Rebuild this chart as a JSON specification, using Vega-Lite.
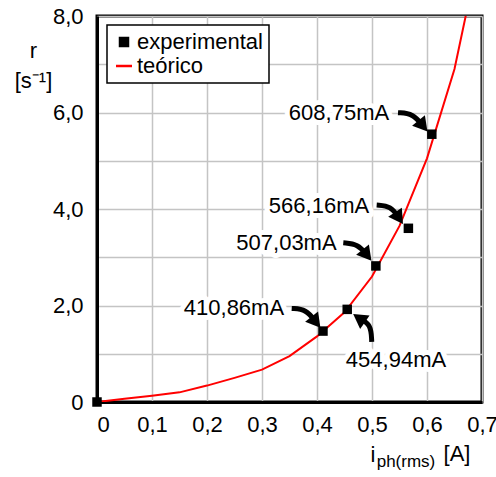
{
  "$schema": "https://vega.github.io/schema/vega-lite/v6.json",
  "width": 385,
  "height": 386,
  "autosize": {"type": "none"},
  "padding": {"left": 97, "top": 16, "right": 14, "bottom": 75},
  "background": "white",
  "config": {
    "font": "Liberation Sans",
    "view": {"stroke": "black", "strokeWidth": 3},
    "legend": {"strokeWidth": 1.5},
    "axis": {
      "gridColor": "#c4c4c4",
      "gridWidth": 1.5,
      "domainColor": "black",
      "domainWidth": 3,
      "ticks": false,
      "labelFont": "Liberation Sans",
      "labelFontSize": 22,
      "labelColor": "black",
      "labelOverlap": false,
      "labelFlush": false,
      "titleFont": "Liberation Sans",
      "titleFontSize": 22,
      "titleFontWeight": "normal",
      "titleColor": "black"
    }
  },
  "datasets": {
    "teorico": [
      {"i": 0, "r": 0, "serie": "teórico"},
      {"i": 0.05, "r": 0.065, "serie": "teórico"},
      {"i": 0.1, "r": 0.13, "serie": "teórico"},
      {"i": 0.15, "r": 0.2, "serie": "teórico"},
      {"i": 0.2, "r": 0.34, "serie": "teórico"},
      {"i": 0.25, "r": 0.5, "serie": "teórico"},
      {"i": 0.3, "r": 0.67, "serie": "teórico"},
      {"i": 0.35, "r": 0.95, "serie": "teórico"},
      {"i": 0.4, "r": 1.36, "serie": "teórico"},
      {"i": 0.45, "r": 1.86, "serie": "teórico"},
      {"i": 0.5, "r": 2.6, "serie": "teórico"},
      {"i": 0.55, "r": 3.65, "serie": "teórico"},
      {"i": 0.6, "r": 5.05, "serie": "teórico"},
      {"i": 0.65, "r": 6.9, "serie": "teórico"},
      {"i": 0.7, "r": 9.6, "serie": "teórico"}
    ],
    "experimental": [
      {"i": 0, "r": 0, "serie": "experimental"},
      {"i": 0.41086, "r": 1.47, "serie": "experimental"},
      {"i": 0.45494, "r": 1.92, "serie": "experimental"},
      {"i": 0.50703, "r": 2.82, "serie": "experimental"},
      {"i": 0.56616, "r": 3.6, "serie": "experimental"},
      {"i": 0.60875, "r": 5.55, "serie": "experimental"}
    ],
    "rotulos": [
      {"i": 0.44, "r": 6.0, "label": "608,75mA"},
      {"i": 0.4036, "r": 4.06, "label": "566,16mA"},
      {"i": 0.3445, "r": 3.29, "label": "507,03mA"},
      {"i": 0.249, "r": 1.94, "label": "410,86mA"},
      {"i": 0.5436, "r": 0.865, "label": "454,94mA"}
    ],
    "subscrito": [
      {"i": 0.5618, "r": -1.355, "label": "ph(rms)"}
    ],
    "unidade": [
      {"i": 0.6545, "r": -1.23, "label": "[A]"}
    ],
    "setas": [
      {"id": 1, "seq": 1, "i": 0.5473, "r": 5.996},
      {"id": 1, "seq": 2, "i": 0.5745, "r": 5.979},
      {"id": 1, "seq": 3, "i": 0.5927, "r": 5.72},
      {"id": 2, "seq": 1, "i": 0.5085, "r": 4.081},
      {"id": 2, "seq": 2, "i": 0.5345, "r": 4.06},
      {"id": 2, "seq": 3, "i": 0.5491, "r": 3.811},
      {"id": 3, "seq": 1, "i": 0.4478, "r": 3.299},
      {"id": 3, "seq": 2, "i": 0.4745, "r": 3.272},
      {"id": 3, "seq": 3, "i": 0.4909, "r": 3.044},
      {"id": 4, "seq": 1, "i": 0.354, "r": 1.938},
      {"id": 4, "seq": 2, "i": 0.38, "r": 1.923},
      {"id": 4, "seq": 3, "i": 0.3982, "r": 1.654},
      {"id": 5, "seq": 1, "i": 0.4995, "r": 1.245},
      {"id": 5, "seq": 2, "i": 0.4982, "r": 1.612},
      {"id": 5, "seq": 3, "i": 0.4764, "r": 1.737}
    ],
    "pontas": [
      {"i": 0.5927, "r": 5.72, "dir": 141},
      {"i": 0.5491, "r": 3.811, "dir": 146},
      {"i": 0.4909, "r": 3.044, "dir": 141},
      {"i": 0.3982, "r": 1.654, "dir": 142},
      {"i": 0.4764, "r": 1.737, "dir": 305}
    ]
  },
  "layer": [
    {
      "data": {"name": "teorico"},
      "mark": {"type": "line", "clip": true, "strokeWidth": 2},
      "encoding": {
        "x": {
          "field": "i",
          "type": "quantitative",
          "scale": {"domain": [0, 0.7], "nice": false},
          "axis": {
            "values": [0, 0.1, 0.2, 0.3, 0.4, 0.5, 0.6, 0.7],
            "labelExpr": "datum.value === 0 ? '0' : replace(format(datum.value, '.1f'), '.', ',')",
            "labelAlign": {"condition": {"test": "datum.value === 0", "value": "left"}, "value": "center"},
            "labelPadding": 12,
            "title": "i",
            "titleAlign": "left",
            "titleBaseline": "alphabetic",
            "titleX": 273,
            "titleY": 59
          }
        },
        "y": {
          "field": "r",
          "type": "quantitative",
          "scale": {"domain": [0, 8], "nice": false},
          "axis": {
            "values": [0, 0.5, 1, 1.5, 2, 2.5, 3, 3.5, 4, 4.5, 5, 5.5, 6, 6.5, 7, 7.5, 8],
            "labelExpr": "datum.value % 2 === 0 ? (datum.value === 0 ? '0' : replace(format(datum.value, '.1f'), '.', ',')) : ''",
            "labelPadding": 14,
            "title": ["r", "[s⁻¹]"],
            "titleAngle": 0,
            "titleAlign": "center",
            "titleBaseline": "alphabetic",
            "titleX": -64,
            "titleY": 41,
            "titleLineHeight": 30
          }
        },
        "color": {
          "field": "serie",
          "type": "nominal",
          "scale": {"domain": ["experimental", "teórico"], "range": ["black", "red"]},
          "legend": {
            "title": null,
            "orient": "none",
            "legendX": 10,
            "legendY": 9,
            "fillColor": "white",
            "strokeColor": "black",
            "padding": 6,
            "labelFont": "Liberation Sans",
            "labelFontSize": 22,
            "labelColor": "black",
            "labelOffset": 2,
            "rowPadding": 2,
            "symbolStrokeWidth": 2.5,
            "encode": {
              "symbols": {
                "update": {
                  "stroke": {"scale": "color", "field": "value"},
                  "size": {"signal": "datum.value === 'teórico' ? 256 : 64"}
                }
              }
            }
          }
        }
      }
    },
    {
      "data": {"name": "experimental"},
      "mark": {"type": "point", "filled": true, "opacity": 1, "size": 90},
      "encoding": {
        "x": {"field": "i", "type": "quantitative"},
        "y": {"field": "r", "type": "quantitative"},
        "color": {"field": "serie", "type": "nominal"},
        "shape": {
          "field": "serie",
          "type": "nominal",
          "scale": {"domain": ["experimental", "teórico"], "range": ["square", "stroke"]}
        }
      }
    },
    {
      "data": {"name": "rotulos"},
      "mark": {"type": "text", "fontSize": 22, "font": "Liberation Sans", "fill": "white", "stroke": "white", "strokeWidth": 10, "strokeJoin": "round"},
      "encoding": {
        "x": {"field": "i", "type": "quantitative"},
        "y": {"field": "r", "type": "quantitative"},
        "text": {"field": "label"}
      }
    },
    {
      "data": {"name": "setas"},
      "mark": {"type": "line", "interpolate": "basis", "strokeWidth": 5, "color": "black"},
      "encoding": {
        "x": {"field": "i", "type": "quantitative"},
        "y": {"field": "r", "type": "quantitative"},
        "detail": {"field": "id"},
        "order": {"field": "seq"}
      }
    },
    {
      "data": {"name": "pontas"},
      "mark": {"type": "point", "shape": "triangle-up", "filled": true, "opacity": 1, "color": "black", "size": 270},
      "encoding": {
        "x": {"field": "i", "type": "quantitative"},
        "y": {"field": "r", "type": "quantitative"},
        "angle": {"field": "dir", "type": "quantitative", "scale": null}
      }
    },
    {
      "data": {"name": "rotulos"},
      "mark": {"type": "text", "fontSize": 22, "font": "Liberation Sans", "color": "black"},
      "encoding": {
        "x": {"field": "i", "type": "quantitative"},
        "y": {"field": "r", "type": "quantitative"},
        "text": {"field": "label"}
      }
    },
    {
      "data": {"name": "subscrito"},
      "mark": {"type": "text", "fontSize": 17, "font": "Liberation Sans", "color": "black", "clip": false, "baseline": "alphabetic"},
      "encoding": {
        "x": {"field": "i", "type": "quantitative"},
        "y": {"field": "r", "type": "quantitative"},
        "text": {"field": "label"}
      }
    },
    {
      "data": {"name": "unidade"},
      "mark": {"type": "text", "fontSize": 22, "font": "Liberation Sans", "color": "black", "clip": false, "baseline": "alphabetic"},
      "encoding": {
        "x": {"field": "i", "type": "quantitative"},
        "y": {"field": "r", "type": "quantitative"},
        "text": {"field": "label"}
      }
    }
  ]
}
